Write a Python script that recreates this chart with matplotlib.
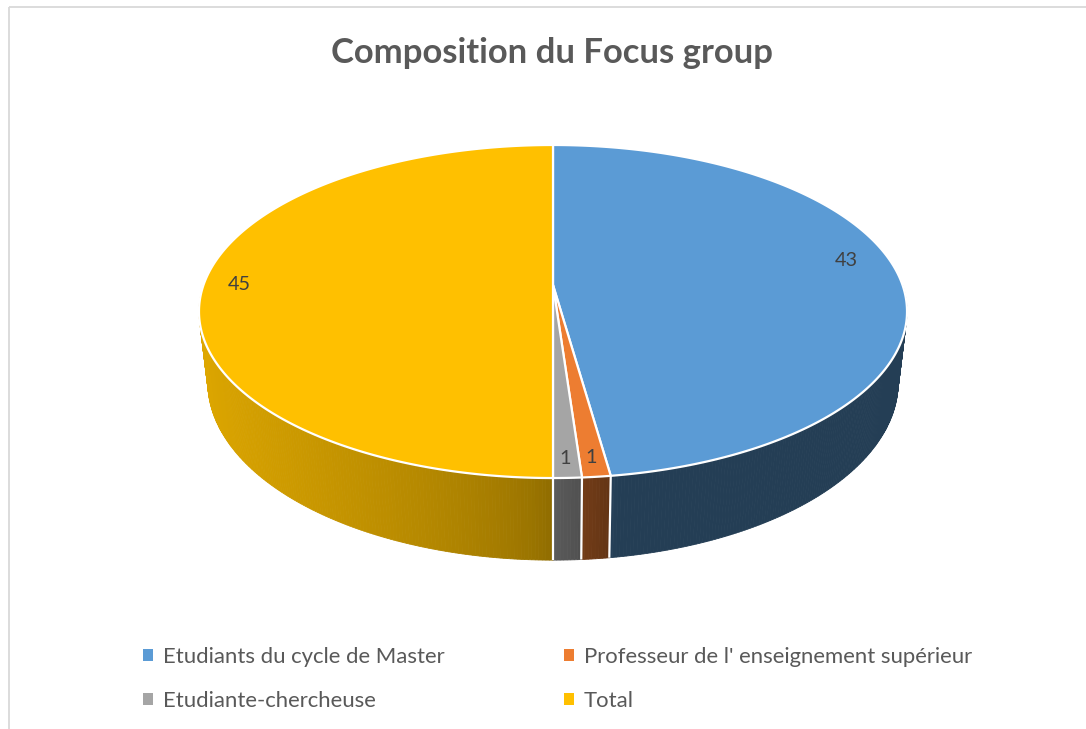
import numpy as np
import matplotlib
matplotlib.use("Agg")
import matplotlib.pyplot as plt
from matplotlib.patches import Polygon, Rectangle, Patch
from matplotlib.colors import to_rgb

# ---------------- data ----------------
title = "Composition du Focus group"
categories = ["Etudiants du cycle de Master",
              "Professeur de l' enseignement supérieur",
              "Etudiante-chercheuse",
              "Total"]
values = [43, 1, 1, 45]
colors = ["#5B9BD5", "#ED7D31", "#A5A5A5", "#FFC000"]

# ---------------- style / geometry ----------------
W, H = 1086, 729
DPI = 100
CX, CY = 553.0, 285.0      # apex of pie (pixels)
A, B = 349.5, 162.3        # horizontal / depth radii
D = 6.28                   # perspective distance
DEPTH = 69.0               # thickness
SHRINK = 0.975             # bottom rim slightly smaller
TEXT = "#595959"
LABEL_COLOR = "#404040"
FONT = ["Lato", "DejaVu Sans"]
LABEL_R = 0.9
LABEL_NUDGE = [(-17, -14), (0, 3), (-1, 3), (1, -1)]

plt.rcParams['font.family'] = FONT

fig = plt.figure(figsize=(W / DPI, H / DPI), dpi=DPI)
ax = fig.add_axes([0, 0, 1, 1])
ax.set_xlim(0, W)
ax.set_ylim(H, 0)
ax.axis('off')


def proj(theta, r=1.0, bottom=False):
    t = np.radians(theta)
    X = r * np.sin(t)
    Z = r * np.cos(t)
    g = D / (D + Z)
    if bottom:
        return CX + A * X * g * SHRINK, CY - B * Z * g + DEPTH * g
    return CX + A * X * g, CY - B * Z * g


def shade(theta):
    if theta < 171:
        return 0.40
    if theta < 180:
        return 0.40 + (theta - 171) / 9 * 0.15
    s = max(np.sin(np.radians(theta - 180)), 0)
    return 0.55 + 0.32 * s ** 0.6


total = float(sum(values))
bounds = np.concatenate([[0], np.cumsum(values) / total * 360.0])

# border
ax.add_patch(Rectangle((9, 7), W, H, fill=False, edgecolor="#d9d9d9", lw=1.3, zorder=0))

# ---------------- sides ----------------
for i, (v, c) in enumerate(zip(values, colors)):
    a0, a1 = bounds[i], bounds[i + 1]
    lo, hi = max(a0, 90), min(a1, 270)
    if hi <= lo:
        continue
    n = max(int((hi - lo) / 0.5), 1)
    edges = np.linspace(lo, hi, n + 1)
    base = np.array(to_rgb(c))
    for e0, e1 in zip(edges[:-1], edges[1:]):
        f = shade(0.5 * (e0 + e1))
        col = np.clip(base * f, 0, 1)
        pts = [proj(e0), proj(e1), proj(e1, bottom=True), proj(e0, bottom=True)]
        ax.add_patch(Polygon(pts, closed=True, facecolor=col, edgecolor=col,
                             lw=0.6, zorder=1))
# white separators on the side
for b in bounds:
    if 90 < b < 270:
        x0, y0 = proj(b)
        x1, y1 = proj(b, bottom=True)
        ax.plot([x0, x1], [y0, y1], color="white", lw=1.6, zorder=1.5,
                solid_capstyle='butt')

# ---------------- top ----------------
for i, (v, c) in enumerate(zip(values, colors)):
    a0, a1 = bounds[i], bounds[i + 1]
    arc = np.linspace(a0, a1, max(int((a1 - a0) * 2), 2))
    pts = [(CX, CY)] + [proj(t) for t in arc]
    ax.add_patch(Polygon(pts, closed=True, facecolor=c, edgecolor="white",
                         lw=1.6, joinstyle='round', zorder=2))

# ---------------- helpers ----------------
renderer = fig.canvas.get_renderer()


def fit_size(s, target_px, weight="normal", start=12):
    t = fig.text(0, 0, s, fontsize=start, fontweight=weight, family=FONT)
    w = t.get_window_extent(renderer).width
    t.remove()
    return start * target_px / w


# ---------------- labels ----------------
lab_fs = fit_size("43", 23)
for i, v in enumerate(values):
    mid = 0.5 * (bounds[i] + bounds[i + 1])
    x, y = proj(mid, r=LABEL_R)
    dx, dy = LABEL_NUDGE[i]
    ax.text(x + dx, y + dy, f"{v}", ha='center', va='center', fontsize=lab_fs,
            color=LABEL_COLOR, zorder=3)

# ---------------- title ----------------
tfs = fit_size(title, 439, weight="bold")
ax.text(552, 53, title, ha='center', va='center', fontsize=tfs,
        fontweight='bold', color=TEXT)

# ---------------- legend (row-major order like the reference) ----------------
lfs = fit_size(categories[0], 281)
fs_px = lfs * DPI / 72.0
order = [0, 2, 1, 3]
handles = [Patch(facecolor=colors[k], edgecolor='none') for k in order]
labels = [categories[k] for k in order]
col1_width = 0.45 * fs_px + 0.45 * fs_px + 281
colspace = (563 - 143 - col1_width) / fs_px
leg = fig.legend(handles, labels, ncol=2, loc='upper left',
                 bbox_to_anchor=(143 / W, 1 - 647 / H),
                 frameon=False, fontsize=lfs, handlelength=0.45,
                 handleheight=0.45, handletextpad=0.45,
                 columnspacing=colspace, labelspacing=0.95 + 3.0 / fs_px,
                 borderpad=0, borderaxespad=0)
for t in leg.get_texts():
    t.set_color(TEXT)

fig.savefig("out.png", dpi=DPI)
